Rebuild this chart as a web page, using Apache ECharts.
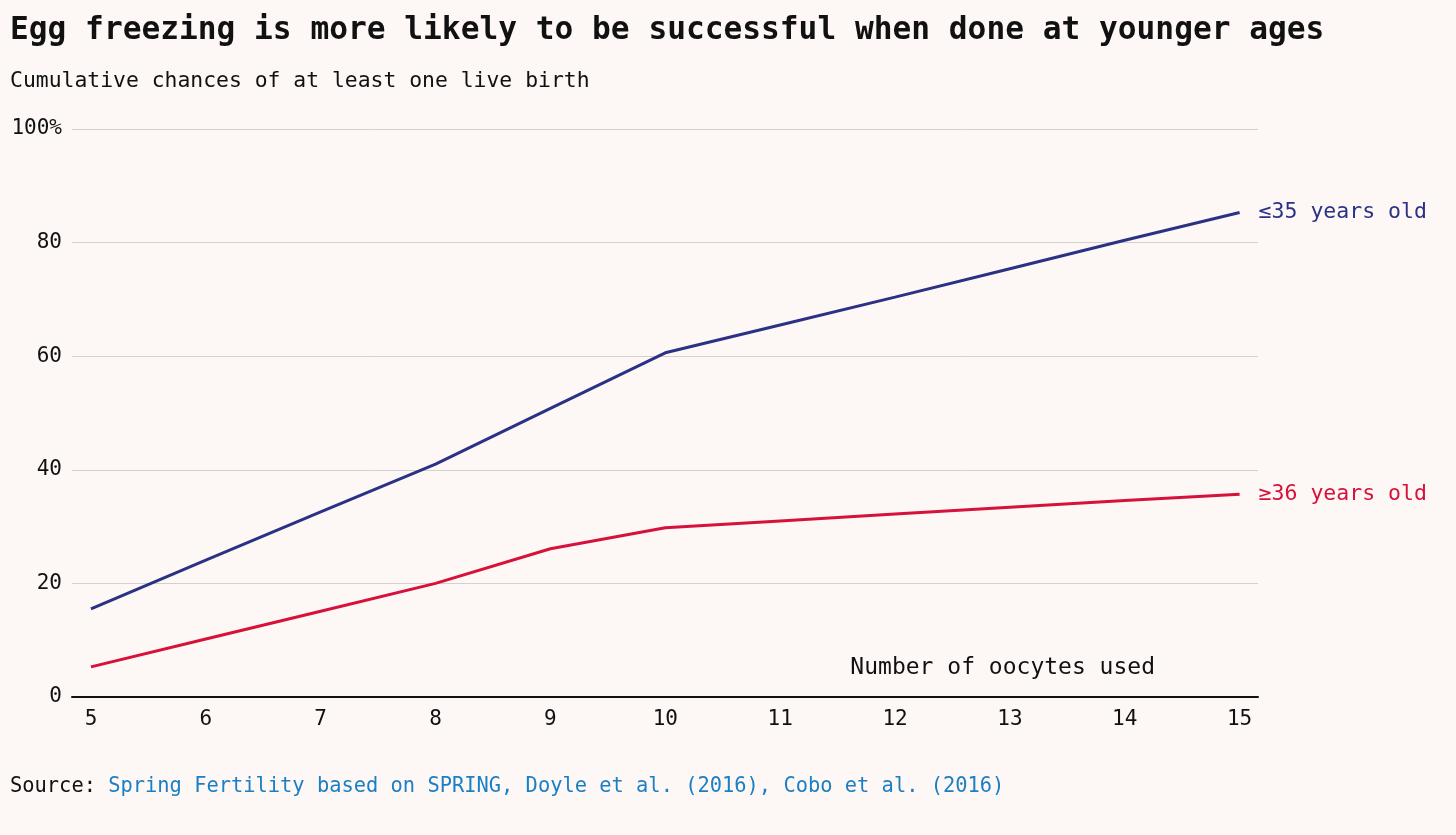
<!DOCTYPE html>
<html>
<head>
<meta charset="utf-8">
<script src="https://cdn.jsdelivr.net/npm/echarts@6/dist/echarts.min.js"></script>
<style>
html,body{margin:0;padding:0;background:#fdf7f5;}
#c{width:1456px;height:835px;}
</style>
</head>
<body>
<div id="c"></div>
<script>
const oocytes = [5, 6, 7, 8, 9, 10, 11, 12, 13, 14, 15];
const young = [15.5, 24.1, 32.6, 41.0, 50.8, 60.6, 65.5, 70.4, 75.4, 80.4, 85.3];
const older = [5.3, 10.2, 15.1, 20.0, 26.1, 29.8, 31.0, 32.2, 33.4, 34.6, 35.7];
const yTicks = [0, 20, 40, 60, 80, 100];
const seriesNames = ['≤35 years old', '≥36 years old'];

const FONT = '"DejaVu Sans Mono", monospace';
const chart = echarts.init(document.getElementById('c'));
chart.setOption({
  backgroundColor: '#fdf7f5',
  animation: false,
  textStyle: { fontFamily: FONT },
  title: [
    { text: 'Egg freezing is more likely to be successful when done at younger ages', left: 10, top: 15, padding: 0,
      textStyle: { fontFamily: FONT, fontSize: 31.2, fontWeight: 'bold', color: '#111' } },
    { text: 'Cumulative chances of at least one live birth', left: 10, top: 71, padding: 0,
      textStyle: { fontFamily: FONT, fontSize: 21.4, fontWeight: 'normal', color: '#111' } },
    { text: '{a|Source: }{b|Spring Fertility based on SPRING, Doyle et al. (2016), Cobo et al. (2016)}', left: 10, top: 777, padding: 0,
      textStyle: { fontFamily: FONT, fontSize: 20.4, fontWeight: 'normal',
        rich: { a: { fontFamily: FONT, fontSize: 20.4, color: '#111' }, b: { fontFamily: FONT, fontSize: 20.4, color: '#1a7fc4' } } } }
  ],
  graphic: [
    { type: 'text', right: 1456 - 1155, top: 657,
      style: { text: 'Number of oocytes used', font: '23px "DejaVu Sans Mono", monospace', fill: '#111' } }
  ],
  grid: { left: 72, right: 1456 - 1258, top: 129, bottom: 835 - 697 },
  xAxis: {
    type: 'value', min: 4.835, max: 15.16,
    axisLine: { show: true, lineStyle: { color: '#111', width: 2 } },
    axisTick: { show: false },
    splitLine: { show: false },
    axisLabel: { customValues: oocytes, fontFamily: FONT, fontSize: 21, color: '#111', margin: 12 }
  },
  yAxis: {
    type: 'value', min: 0, max: 100, interval: 20,
    axisLine: { show: false }, axisTick: { show: false },
    splitLine: { lineStyle: { color: '#d6d0cd', width: 1 } },
    axisLabel: { fontFamily: FONT, fontSize: 21, color: '#111', margin: 10,
      formatter: v => v === 100 ? '100%' : String(v) }
  },
  series: [
    { name: seriesNames[0], type: 'line', data: oocytes.map((x, i) => [x, young[i]]),
      symbol: 'none', lineStyle: { color: '#2b3286', width: 3 },
      endLabel: { show: true, formatter: seriesNames[0], distance: 19, color: '#2b3286', fontFamily: FONT, fontSize: 21.5 } },
    { name: seriesNames[1], type: 'line', data: oocytes.map((x, i) => [x, older[i]]),
      symbol: 'none', lineStyle: { color: '#d6123a', width: 3 },
      endLabel: { show: true, formatter: seriesNames[1], distance: 19, color: '#d6123a', fontFamily: FONT, fontSize: 21.5 } }
  ]
});
</script>
</body>
</html>
